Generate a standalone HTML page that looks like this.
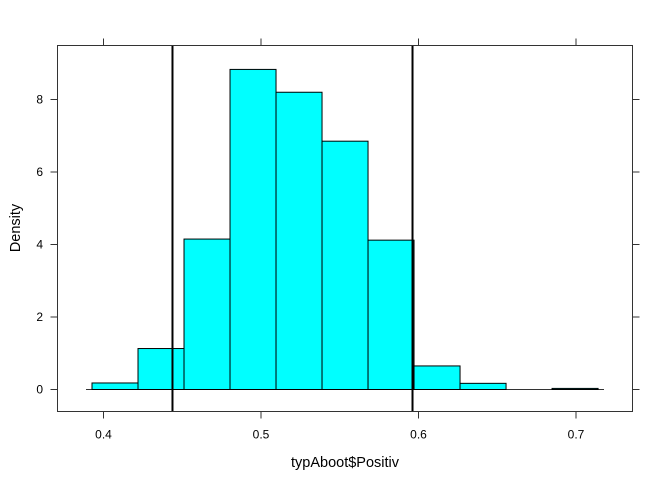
<!DOCTYPE html>
<html><head><meta charset="utf-8"><style>
body{margin:0;background:#fff}
svg{display:block;font-family:"Liberation Sans",sans-serif}
</style></head><body>
<svg id="c" width="672" height="480"></svg>
<script>
const binStart=0.3927;
const binWidth=0.02921;
const densities=[0.18,1.13,4.15,8.83,8.2,6.85,4.12,0.65,0.17,0,0.03];
const xTicks=[0.4,0.5,0.6,0.7];
const yTicks=[0,2,4,6,8];
const refLines=[0.4438,0.5962];
const xMin=0.4,xMax=0.7;
const X=v=>103.5+(v-0.4)*1575;
const Y=v=>389.5-v*36.25;
const ns="http://www.w3.org/2000/svg";
const svg=document.getElementById('c');
function mk(t,a){const e=document.createElementNS(ns,t);for(const k in a)e.setAttribute(k,a[k]);svg.appendChild(e);return e;}
const L=57.5,R=632.5,T=45.5,B=411.5;
// baseline
let bl=mk('line',{x1:86,x2:604,y1:Y(0),y2:Y(0),stroke:'#333','stroke-width':1});


densities.forEach((d,i)=>{
  const x0=X(binStart+i*binWidth),x1=X(binStart+(i+1)*binWidth);
  const r=mk('rect',{x:x0,y:Y(d),width:x1-x0,height:Y(0)-Y(d),fill:'#00ffff',stroke:'#000','stroke-width':1});
  
  
});
refLines.forEach((v,i)=>{
  const l=mk('line',{x1:X(v),x2:X(v),y1:T,y2:B,stroke:'#000','stroke-width':2});
  
  
});
const box=mk('rect',{x:L,y:T,width:R-L,height:B-T,fill:'none',stroke:'#333','stroke-width':1});


xTicks.forEach(v=>{
  const x=X(v);
  mk('line',{x1:x,x2:x,y1:B,y2:B+7,stroke:'#333'});
  mk('line',{x1:x,x2:x,y1:T,y2:T-7,stroke:'#333'});
  const t=mk('text',{x:x,y:B+27,'text-anchor':'middle','font-size':12});
  t.textContent=v.toFixed(1);
  
  
});
yTicks.forEach(v=>{
  const y=Y(v);
  mk('line',{x1:L,x2:L-7,y1:y,y2:y,stroke:'#333'});
  mk('line',{x1:R,x2:R+7,y1:y,y2:y,stroke:'#333'});
  const t=mk('text',{x:43,y:y+4,'text-anchor':'end','font-size':12});
  t.textContent=v;
  
  
});
const xl=mk('text',{x:345,y:467,'text-anchor':'middle','font-size':14.5});
xl.textContent='typAboot$Positiv';


const yl=mk('text',{x:20,y:228,'text-anchor':'middle','font-size':14.5,transform:'rotate(-90 20 228)'});
yl.textContent='Density';


</script>
</body></html>
